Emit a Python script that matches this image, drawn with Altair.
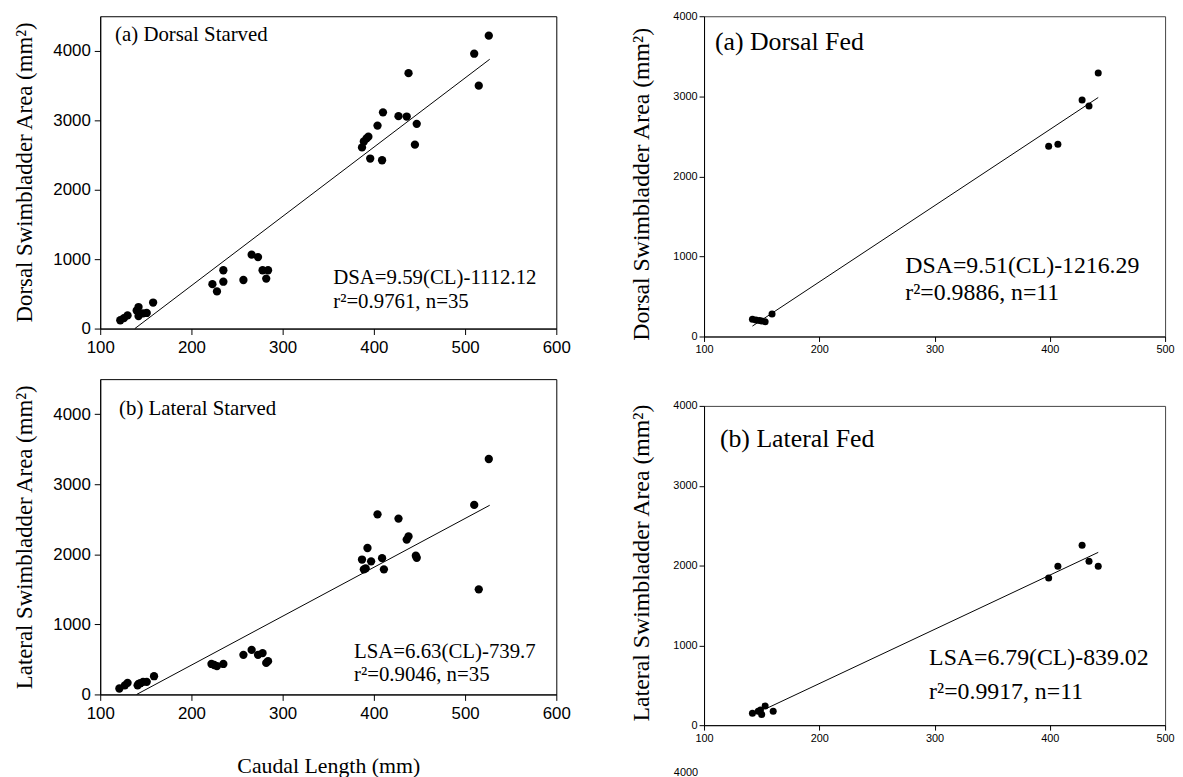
import altair as alt
import pandas as pd

# ---------------- data ----------------
# (a) Dorsal Starved
ds_cl = [122, 126, 130, 140, 142, 142, 147, 151, 158,
         223, 228, 235, 235, 257, 266, 273, 278, 284, 282,
         387, 389, 392, 394, 396, 404, 410, 409, 427, 436, 447, 445, 438, 510, 515, 526]
ds_area = [120, 150, 190, 260, 310, 180, 220, 225, 375,
           640, 535, 840, 675, 700, 1065, 1030, 840, 840, 720,
           2610, 2695, 2740, 2765, 2450, 2925, 3115, 2425, 3060, 3055, 2950, 2650, 3680, 3960, 3500, 4220]
ds_fit_cl = [138, 527]
ds_fit_area = [0, 3880]

# (b) Lateral Starved
ls_cl = [121, 127, 130, 141, 142, 144, 147, 151, 159,
         222, 225, 228, 235, 257, 266, 273, 278, 282, 284,
         387, 389, 391, 393, 397, 404, 409, 411, 427, 436, 438, 446, 447, 510, 515, 526]
ls_area = [85, 130, 165, 130, 150, 160, 180, 180, 260,
           435, 420, 405, 435, 565, 635, 565, 590, 450, 475,
           1925, 1785, 1800, 2090, 1900, 2570, 1945, 1785, 2510, 2210, 2255, 1980, 1950, 2705, 1500, 3360]
ls_fit_cl = [140, 527]
ls_fit_area = [0, 2700]

# (a) Dorsal Fed
df_cl = [142, 145, 148, 150, 153, 159, 399, 407, 428, 434, 442]
df_area = [215, 205, 200, 195, 185, 280, 2375, 2400, 2955, 2880, 3290]
df_fit_cl = [142, 442]
df_fit_area = [130, 2985]

# (b) Lateral Fed
lf_cl = [142, 147, 149, 150, 153, 160, 399, 407, 428, 434, 442]
lf_area = [150, 175, 190, 135, 240, 175, 1845, 1990, 2255, 2055, 1990]
lf_fit_cl = [155, 442]
lf_fit_area = [215, 2165]

x_ticks_starved = [100, 200, 300, 400, 500, 600]
x_ticks_fed = [100, 200, 300, 400, 500]
y_ticks = [0, 1000, 2000, 3000, 4000]

SERIF = "Liberation Serif"
SANS = "Liberation Sans"


def txt(s, x, y, size, align="left", baseline="alphabetic", font=SERIF):
    return alt.Chart(pd.DataFrame({"t": [s]})).mark_text(
        font=font, fontSize=size, color="black", align=align, baseline=baseline
    ).encode(text="t:N", x=alt.value(x), y=alt.value(y))


def panel(cl, area, fcl, farea, xmax, ymax, xticks, w, h, psize,
          tick_font, y_title, ytx, yty, yts, label, lab_x, lab_y, lab_size,
          eq1, eq2, eq_x, eq_y1, eq_y2, eq_size, x_title=None, tick_len=6,
          lab_pad_y=4, lab_pad_x=5, frame="black", extra=None):
    pts = pd.DataFrame({"cl": cl, "area": area})
    fit = pd.DataFrame({"cl": fcl, "area": farea})
    xaxis = dict(values=xticks, format="d", grid=False, labelFont=SANS,
                 labelFontSize=tick_font, labelColor="black", tickColor="black",
                 domainColor="black", tickSize=tick_len, labelPadding=lab_pad_x,
                 labelFlush=False, labelOverlap=False)
    if x_title:
        xaxis.update(title=x_title, titleFont=SERIF, titleFontSize=22,
                     titleFontWeight="normal", titleColor="black", titleY=62)
    else:
        xaxis.update(title=None)
    xs = alt.X("cl:Q", scale=alt.Scale(domain=[100, xmax], nice=False, zero=False),
               axis=alt.Axis(**xaxis))
    ys = alt.Y("area:Q", scale=alt.Scale(domain=[0, ymax], nice=False),
               axis=alt.Axis(values=y_ticks, format="d", grid=False, labelFont=SANS,
                             labelFontSize=tick_font, labelColor="black",
                             tickColor="black", domainColor="black", tickSize=tick_len,
                             labelPadding=lab_pad_y, labelFlush=False, labelOverlap=False,
                             title=y_title, titleFont=SERIF, titleFontSize=yts,
                             titleFontWeight="normal", titleColor="black",
                             titleX=ytx, titleY=yty))
    points = alt.Chart(pts).mark_circle(size=psize, color="black", opacity=1).encode(x=xs, y=ys)
    line = alt.Chart(fit).mark_line(color="black", strokeWidth=1).encode(x="cl:Q", y="area:Q")
    layers = [points, line,
              txt(label, lab_x, lab_y, lab_size),
              txt(eq1, eq_x, eq_y1, eq_size),
              txt(eq2, eq_x, eq_y2, eq_size)]
    if extra is not None:
        layers.append(extra)
    return alt.layer(*layers).properties(
        width=w, height=h, view=alt.ViewBackground(stroke=frame, strokeWidth=1))


p1 = panel(ds_cl, ds_area, ds_fit_cl, ds_fit_area, 600, 4500, x_ticks_starved, 460, 315, 70,
           17, "Dorsal Swimbladder Area (mm²)", -64, 157, 23,
           "(a) Dorsal Starved", 15, 25, 21,
           "DSA=9.59(CL)-1112.12", "r²=0.9761, n=35", 235, 270, 294, 21)

p3 = panel(ls_cl, ls_area, ls_fit_cl, ls_fit_area, 600, 4500, x_ticks_starved, 460, 318, 70,
           17, "Lateral Swimbladder Area (mm²)", -64, 159, 23,
           "(b) Lateral Starved", 19, 36, 21,
           "LSA=6.63(CL)-739.7", "r²=0.9046, n=35", 256, 281, 304, 21,
           x_title="Caudal Length (mm)")

p2 = panel(df_cl, df_area, df_fit_cl, df_fit_area, 500, 4000, x_ticks_fed, 465, 323, 50,
           11, "Dorsal Swimbladder Area (mm²)", -51, 169, 24,
           "(a) Dorsal Fed", 11, 34, 26,
           "DSA=9.51(CL)-1216.29", "r²=0.9886, n=11", 203, 259, 286, 24,
           tick_len=5, lab_pad_y=2, lab_pad_x=2, frame="#444")

fragment = txt("4000", -6, 364, 11, align="right", baseline="top", font=SANS)

p4 = panel(lf_cl, lf_area, lf_fit_cl, lf_fit_area, 500, 4000, x_ticks_fed, 465, 322, 50,
           11, "Lateral Swimbladder Area (mm²)", -51, 158, 24,
           "(b) Lateral Fed", 16, 41, 26,
           "LSA=6.79(CL)-839.02", "r²=0.9917, n=11", 227, 261, 296, 24,
           tick_len=5, lab_pad_y=2, lab_pad_x=2, frame="#444", extra=fragment)

left = alt.vconcat(p1, p3, spacing=51, bounds="flush")
right = alt.vconcat(p2, p4, spacing=70, bounds="flush")

chart = alt.hconcat(left, right, spacing=58).properties(
    padding={"left": 5, "top": -2, "right": 0, "bottom": 0},
    background="white",
).configure_view(strokeWidth=1)

chart.save("out.html", embed_options={"renderer": "svg", "actions": False})
